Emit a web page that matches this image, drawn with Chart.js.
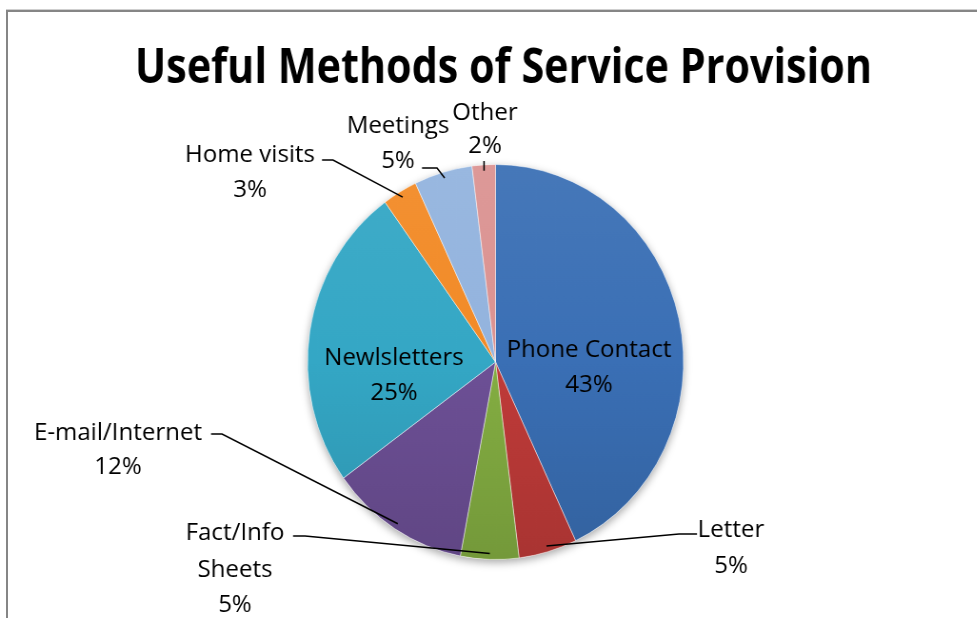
<!DOCTYPE html>
<html>
<head>
<meta charset="utf-8">
<title>Useful Methods of Service Provision</title>
<script src="https://cdn.jsdelivr.net/npm/chart.js@4.4.0/dist/chart.umd.min.js"></script>
<style>
  html, body { margin: 0; padding: 0; background: #fff; overflow: hidden; }
  /* chart box outline, only the top and left edges show */
  #frame { position: absolute; left: 6px; top: 10px; width: 1200px; height: 800px;
           border-top: 2px solid #868686; border-left: 2px solid #868686;
           box-shadow: 0 -1px 0 #cfcfcf; }
  /* the pie is a touch narrower than it is tall, so squeeze the whole canvas */
  #wrap { position: absolute; left: 0; top: 0; width: 1026px; height: 618px;
          transform: scaleX(0.952); transform-origin: 0 0; }
</style>
</head>
<body>
<div id="frame"></div>
<div id="wrap"><canvas id="pieChart"></canvas></div>
<script>

// survey answers, percent of respondents
const categories = ['Phone Contact', 'Letter', ['Fact/Info', 'Sheets'], 'E-mail/Internet',
                    'Newlsletters', 'Home visits', 'Meetings', 'Other'];
const shares = [43, 5, 5, 12, 25, 3, 5, 2];
const sliceColours = ['#3A6FB5', '#C03B39', '#84AE42', '#6D5096',
                      '#34A7C5', '#F28A26', '#93B3DE', '#DB9291'];

const chartTitle = 'Useful Methods of Service Provision';

const SQUISH = 0.952;
const sx = v => v / SQUISH;       // page x -> canvas x
const LABEL_STRETCH = 1.1;

// where each label sits on the page (centre x, baselines) and its leader stub
const labelLayout = [
    { x: 589, y: [357, 392] },
    { x: 731, y: [537, 573], leader: [697, 534, 679, 534] },
    { x: 235, y: [540, 577, 612], leader: [293, 536, 305, 536] },
    { x: 118, y: [440, 474], leader: [211, 434, 222, 434] },
    { x: 394, y: [365, 400] },
    { x: 250, y: [162, 197], leader: [322, 160, 333, 160] },
    { x: 398, y: [133, 168], leader: [422, 168, 437, 168] },
    { x: 485, y: [120, 153], leader: [484, 161, 484, 161] }
];

function shade(hex, amt) {
    const n = parseInt(hex.slice(1), 16);
    let r = n >> 16, g = (n >> 8) & 255, b = n & 255;
    const t = amt > 0 ? 255 : 0, a = Math.abs(amt);
    r = Math.round(r + (t - r) * a);
    g = Math.round(g + (t - g) * a);
    b = Math.round(b + (t - b) * a);
    return 'rgb(' + r + ',' + g + ',' + b + ')';
}

function sliceFill(c) {
    const hex = sliceColours[c.dataIndex];
    const area = c.chart.chartArea;
    if (!area) return hex;
    const grad = c.chart.ctx.createLinearGradient(0, area.top, 0, area.bottom);
    grad.addColorStop(0, shade(hex, 0.06));
    grad.addColorStop(0.5, hex);
    grad.addColorStop(1, shade(hex, -0.12));
    return grad;
}

function drawText(ctx, text, x, y, stretch) {
    ctx.save();
    ctx.translate(x, y);
    ctx.scale(stretch, 1);
    ctx.fillText(text, 0, 0);
    ctx.restore();
}

const labelPlugin = {
    id: 'sliceLabels',
    beforeDatasetsDraw(chart) {
        // soft drop shadow under the pie
        const arc = chart.getDatasetMeta(0).data[0];
        const ctx = chart.ctx;
        ctx.save();
        ctx.shadowColor = 'rgba(0,0,0,0.35)';
        ctx.shadowBlur = 8;
        ctx.shadowOffsetY = 3;
        ctx.fillStyle = '#fff';
        ctx.beginPath();
        ctx.arc(arc.x, arc.y, arc.outerRadius, 0, Math.PI * 2);
        ctx.fill();
        ctx.restore();
    },
    afterDatasetsDraw(chart) {
        const ctx = chart.ctx;
        const arcs = chart.getDatasetMeta(0).data;
        ctx.save();

        ctx.strokeStyle = '#000';
        ctx.lineWidth = 1.5;
        arcs.forEach((arc, i) => {
            const lay = labelLayout[i];
            if (!lay.leader) return;
            const mid = (arc.startAngle + arc.endAngle) / 2;
            const r = arc.outerRadius * 0.97;
            ctx.beginPath();
            ctx.moveTo(sx(lay.leader[0]), lay.leader[1]);
            ctx.lineTo(sx(lay.leader[2]), lay.leader[3]);
            ctx.lineTo(arc.x + Math.cos(mid) * r, arc.y + Math.sin(mid) * r);
            ctx.stroke();
        });

        ctx.fillStyle = '#000';
        ctx.textAlign = 'center';
        ctx.textBaseline = 'alphabetic';
        ctx.font = '23px "Open Sans"';
        arcs.forEach((arc, i) => {
            const lay = labelLayout[i];
            const name = categories[i];
            const rows = (Array.isArray(name) ? name : [name]).concat(shares[i] + '%');
            rows.forEach((t, j) => drawText(ctx, t, sx(lay.x), lay.y[j], LABEL_STRETCH));
        });
        ctx.restore();
    },
    afterDraw(chart) {
        const ctx = chart.ctx;
        ctx.save();
        ctx.fillStyle = '#000';
        ctx.textAlign = 'center';
        ctx.textBaseline = 'alphabetic';
        ctx.font = 'bold 49px "Open Sans"';
        const w = ctx.measureText(chartTitle).width;
        drawText(ctx, chartTitle, sx(503.5), 83, sx(737) / w);
        ctx.restore();
    }
};

const pieChart = new Chart(document.getElementById('pieChart'), {
    type: 'pie',
    data: {
        labels: categories,
        datasets: [{
            data: shares,
            backgroundColor: sliceFill,
            borderColor: 'rgba(255,255,255,0.45)',
            borderWidth: 1
        }]
    },
    options: {
        responsive: true,
        maintainAspectRatio: false,
        animation: false,
        events: [],
        layout: { padding: { top: 164, bottom: 58, left: 322.5, right: 307.5 } },
        plugins: {
            legend: { display: false },
            title: { display: false },
            tooltip: { enabled: false }
        }
    },
    plugins: [labelPlugin]
});
</script>
</body>
</html>
